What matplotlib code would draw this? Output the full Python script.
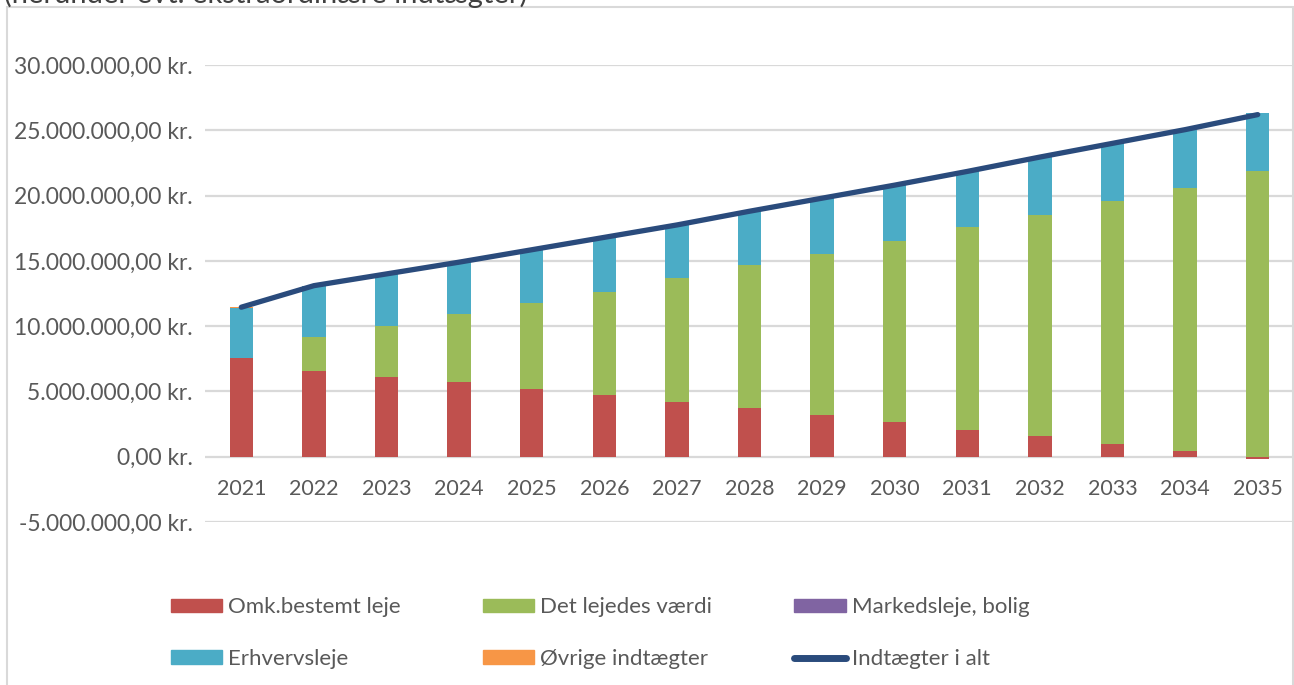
import matplotlib

matplotlib.use("Agg")
import matplotlib.pyplot as plt
import numpy as np
from matplotlib.lines import Line2D
from matplotlib.patches import Patch, Rectangle
from matplotlib.ticker import FuncFormatter

plt.rcParams["font.family"] = ["Lato", "DejaVu Sans"]

years = ["2021", "2022", "2023", "2024", "2025", "2026", "2027", "2028",
         "2029", "2030", "2031", "2032", "2033", "2034", "2035"]

# values in kr.
omk_leje = [7.55e6, 6.60e6, 6.10e6, 5.70e6, 5.20e6, 4.75e6, 4.20e6, 3.75e6,
            3.20e6, 2.63e6, 2.07e6, 1.56e6, 1.00e6, 0.41e6, -0.15e6]
lejedes_vaerdi = [0.0, 2.55e6, 3.90e6, 5.20e6, 6.60e6, 7.90e6, 9.45e6, 10.90e6,
                  12.30e6, 13.87e6, 15.53e6, 16.99e6, 18.60e6, 20.19e6, 21.90e6]
markedsleje = [0.0] * 15
erhvervsleje = [3.85e6, 3.95e6, 4.00e6, 4.00e6, 4.05e6, 4.15e6, 4.10e6, 4.15e6,
                4.30e6, 4.30e6, 4.25e6, 4.40e6, 4.40e6, 4.45e6, 4.40e6]
oevrige = [0.05e6, 0.0, 0.0, 0.0, 0.0, 0.0, 0.0, 0.0,
           0.0, 0.0, 0.0, 0.0, 0.0, 0.0, 0.05e6]
i_alt = [11.45e6, 13.10e6, 14.00e6, 14.90e6, 15.85e6, 16.80e6, 17.75e6, 18.80e6,
         19.80e6, 20.80e6, 21.85e6, 22.95e6, 24.00e6, 25.05e6, 26.20e6]

C_RED = "#c0504d"
C_GREEN = "#9bbb59"
C_PURPLE = "#8064a2"
C_BLUE = "#4bacc6"
C_ORANGE = "#f79646"
C_LINE = "#2a4b7c"
C_TEXT = "#595959"
C_GRID = "#d9d9d9"


def kr(v, _pos=None):
    s = f"{abs(v):,.2f}".replace(",", "X").replace(".", ",").replace("X", ".")
    return ("-" if v < 0 else "") + s + " kr."


fig = plt.figure(figsize=(12.94, 6.85), dpi=100)
ax = fig.add_axes([205 / 1294, 1 - 522 / 685, (1294 - 205) / 1294, (522 - 65) / 685])

x = np.arange(len(years))
w = 0.32
series = [(omk_leje, C_RED), (lejedes_vaerdi, C_GREEN), (markedsleje, C_PURPLE),
          (erhvervsleje, C_BLUE), (oevrige, C_ORANGE)]
pos_base = np.zeros(len(years))
neg_base = np.zeros(len(years))
for vals, col in series:
    v = np.array(vals)
    base = np.where(v >= 0, pos_base, neg_base)
    ax.bar(x, v, w, bottom=base, color=col, zorder=2)
    pos_base += np.where(v >= 0, v, 0)
    neg_base += np.where(v < 0, v, 0)

ax.plot(x, i_alt, color=C_LINE, lw=3.8, solid_capstyle="round", zorder=3)

ax.set_xlim(-0.5, len(years) - 0.5)
ax.set_ylim(-5e6, 30e6)
ax.set_yticks(np.arange(-5e6, 30.1e6, 5e6))
ax.yaxis.set_major_formatter(FuncFormatter(kr))
ax.tick_params(axis="y", length=0, labelsize=16.5, labelcolor=C_TEXT, pad=9)
ax.set_xticks([])
ax.grid(axis="y", color=C_GRID, lw=1.6, zorder=0)
ax.set_axisbelow(True)
for s in ax.spines.values():
    s.set_visible(False)

for i, yr in enumerate(years):
    ax.annotate(yr, (i, 0), xytext=(0, -23), textcoords="offset points",
                ha="center", va="center", fontsize=15.5, color=C_TEXT)

# chart frame and clipped heading
fig.patches.append(Rectangle((6.5 / 1294, -0.05), (1292.5 - 6.5) / 1294, 1 - 7 / 685 + 0.05,
                             transform=fig.transFigure, fill=False,
                             edgecolor=C_GRID, lw=1.5))
fig.text(4 / 1294, 1 - 3 / 685, "(herunder evt. ekstraordinære indtægter)",
         ha="left", va="baseline", fontsize=21, color="#404040")

handles = [Patch(color=C_RED), Patch(color=C_BLUE), Patch(color=C_GREEN),
           Patch(color=C_ORANGE), Patch(color=C_PURPLE),
           Line2D([], [], color=C_LINE, lw=5, solid_capstyle="round")]
labels = ["Omk.bestemt leje", "Erhvervsleje", "Det lejedes værdi",
          "Øvrige indtægter", "Markedsleje, bolig", "Indtægter i alt"]
fig.legend(handles, labels, ncol=3, loc="center left",
           bbox_to_anchor=(160 / 1294, 1 - 633 / 685), frameon=False, borderpad=0,
           fontsize=16, labelcolor=C_TEXT, handlelength=2.3, handleheight=0.54,
           handletextpad=0.27, columnspacing=3.7, labelspacing=1.42)

fig.savefig("out.png", dpi=100, facecolor="white")
